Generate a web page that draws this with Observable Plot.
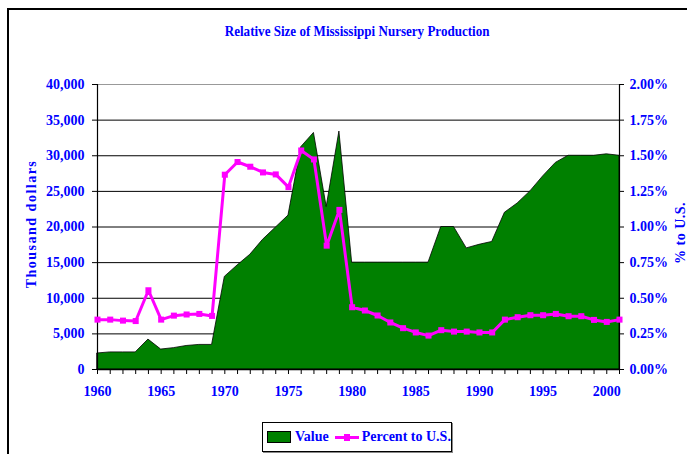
<!DOCTYPE html>
<html>
<head>
<meta charset="utf-8">
<script src="https://cdn.jsdelivr.net/npm/d3@7"></script>
<script src="https://cdn.jsdelivr.net/npm/@observablehq/plot@0.6"></script>
<style>
  html, body { margin: 0; padding: 0; background: #fff; }
  #wrap { position: relative; width: 687px; height: 454px; overflow: hidden; font-family: "Liberation Serif", "Times New Roman", serif; font-weight: bold; color: #0000ff; }
  #frame { position: absolute; left: 7px; top: 8px; width: 700px; height: 460px; border-left: 2px solid #000; border-top: 2px solid #000; }
  #title { position: absolute; left: 0; width: 714px; top: 23px; text-align: center; font-size: 15px; }
  #title span { display: inline-block; transform: scaleX(0.87); }
  #chart { position: absolute; left: 0; top: 0; }
  .ytitle { position: absolute; font-size: 14px; white-space: nowrap; transform-origin: center center; }
  #ylab { left: 32px; top: 224px; letter-spacing: 1.5px; transform: translate(-50%, -50%) rotate(-90deg); }
  #y2lab { left: 681px; top: 233px; letter-spacing: 0.5px; transform: translate(-50%, -50%) rotate(-90deg); }
  #legend { position: absolute; left: 262px; top: 422px; width: 188px; height: 28px; border: 1px solid #000; box-shadow: 1px 1px 0 #888; font-size: 14px; display: flex; align-items: center; }
  .sw { display: inline-block; width: 22px; height: 10px; background: #008000; border: 1px solid #000; margin-left: 4px; margin-right: 4px; }
  .ln { display: inline-block; position: relative; width: 24px; height: 3px; background: #ff00ff; margin-left: 6px; margin-right: 3px; }
  .ln::after { content: ""; position: absolute; left: 9px; top: -2px; width: 6px; height: 7px; background: #ff00ff; }
</style>
</head>
<body>
<div id="wrap">
  <div id="frame"></div>
  <div id="title"><span>Relative Size of Mississippi Nursery Production</span></div>
  <div id="chart"></div>
  <div class="ytitle" id="ylab">Thousand dollars</div>
  <div class="ytitle" id="y2lab">% to U.S.</div>
  <div id="legend"><span class="sw"></span><span>Value</span><span class="ln"></span><span>Percent to U.S.</span></div>
</div>
<script>
// Data
const years = [1960,1961,1962,1963,1964,1965,1966,1967,1968,1969,
               1970,1971,1972,1973,1974,1975,1976,1977,1978,1979,
               1980,1981,1982,1983,1984,1985,1986,1987,1988,1989,
               1990,1991,1992,1993,1994,1995,1996,1997,1998,1999,
               2000,2001];
// Value, thousand dollars
const values = [2250,2400,2400,2400,4200,2800,3000,3300,3450,3450,
                13000,14600,16100,18200,19900,21600,31200,33200,22800,33400,
                15000,15000,15000,15000,15000,15000,15000,20000,20000,17000,
                17500,17900,22000,23300,25000,27100,29000,30000,30000,30000,
                30200,30000];
// Percent to U.S.
const percents = [0.35,0.35,0.343,0.34,0.556,0.35,0.378,0.386,0.39,0.376,
                  1.367,1.456,1.423,1.383,1.369,1.28,1.537,1.474,0.869,1.12,
                  0.437,0.414,0.379,0.33,0.29,0.26,0.238,0.276,0.266,0.266,
                  0.26,0.26,0.35,0.367,0.381,0.381,0.39,0.374,0.374,0.348,
                  0.334,0.35];
const leftTicks = [0,5000,10000,15000,20000,25000,30000,35000,40000];
const rightTicks = [0,0.25,0.5,0.75,1,1.25,1.5,1.75,2];
const yearLabels = [1960,1965,1970,1975,1980,1985,1990,1995,2000];

const data = years.map((y, i) => ({year: y, value: values[i], pct: percents[i]}));
const leftMax = 40000, rightMax = 2; // both axes share the same vertical extent
const toLeft = p => p * leftMax / rightMax;

const plot = Plot.plot({
  width: 687,
  height: 410,
  marginTop: 84,
  marginBottom: 41,
  marginLeft: 97,
  marginRight: 68,
  style: {fontFamily: "'Liberation Serif', 'Times New Roman', serif", fontSize: "14px", fontWeight: "bold", background: "transparent"},
  x: {domain: [years[0], years[years.length - 1]], axis: null},
  y: {domain: [0, leftMax], axis: null},
  marks: [
    Plot.ruleY(leftTicks.filter(t => t > 0 && t < leftMax), {stroke: "#000", strokeWidth: 1}),
    Plot.ruleY([leftMax], {stroke: "#999", strokeWidth: 1}),
    Plot.areaY(data, {x: "year", y: "value", fill: "#008000", stroke: "#000", strokeWidth: 0.8}),
    Plot.ruleX([years[0]], {stroke: "#000", strokeWidth: 1.2}),
    Plot.ruleX([years[years.length - 1]], {stroke: "#000", strokeWidth: 1.2}),
    Plot.ruleY([0], {stroke: "#000", strokeWidth: 1.5}),
    Plot.lineY(data, {x: "year", y: d => toLeft(d.pct), stroke: "#ff00ff", strokeWidth: 3}),
    Plot.dot(data, {x: "year", y: d => toLeft(d.pct), symbol: "square", r: 3.4, fill: "#ff00ff"}),
    Plot.axisY({anchor: "left", ticks: leftTicks, tickFormat: d3.format(","), tickSize: 5, tickPadding: 8, label: null, stroke: "#000", fill: "#0000ff"}),
    Plot.axisY({anchor: "right", ticks: rightTicks.map(toLeft), tickFormat: d => (d * rightMax / leftMax).toFixed(2) + "%", tickSize: 4, tickPadding: 6, label: null, stroke: "#000", fill: "#0000ff"}),
    Plot.axisX({anchor: "bottom", ticks: years, tickFormat: () => "", tickSize: 5, label: null, stroke: "#000"}),
    Plot.axisX({anchor: "bottom", ticks: yearLabels, tickFormat: d => String(d), tickSize: 0, tickPadding: 17, label: null, fill: "#0000ff"})
  ]
});
document.getElementById("chart").appendChild(plot);
</script>
</body>
</html>
